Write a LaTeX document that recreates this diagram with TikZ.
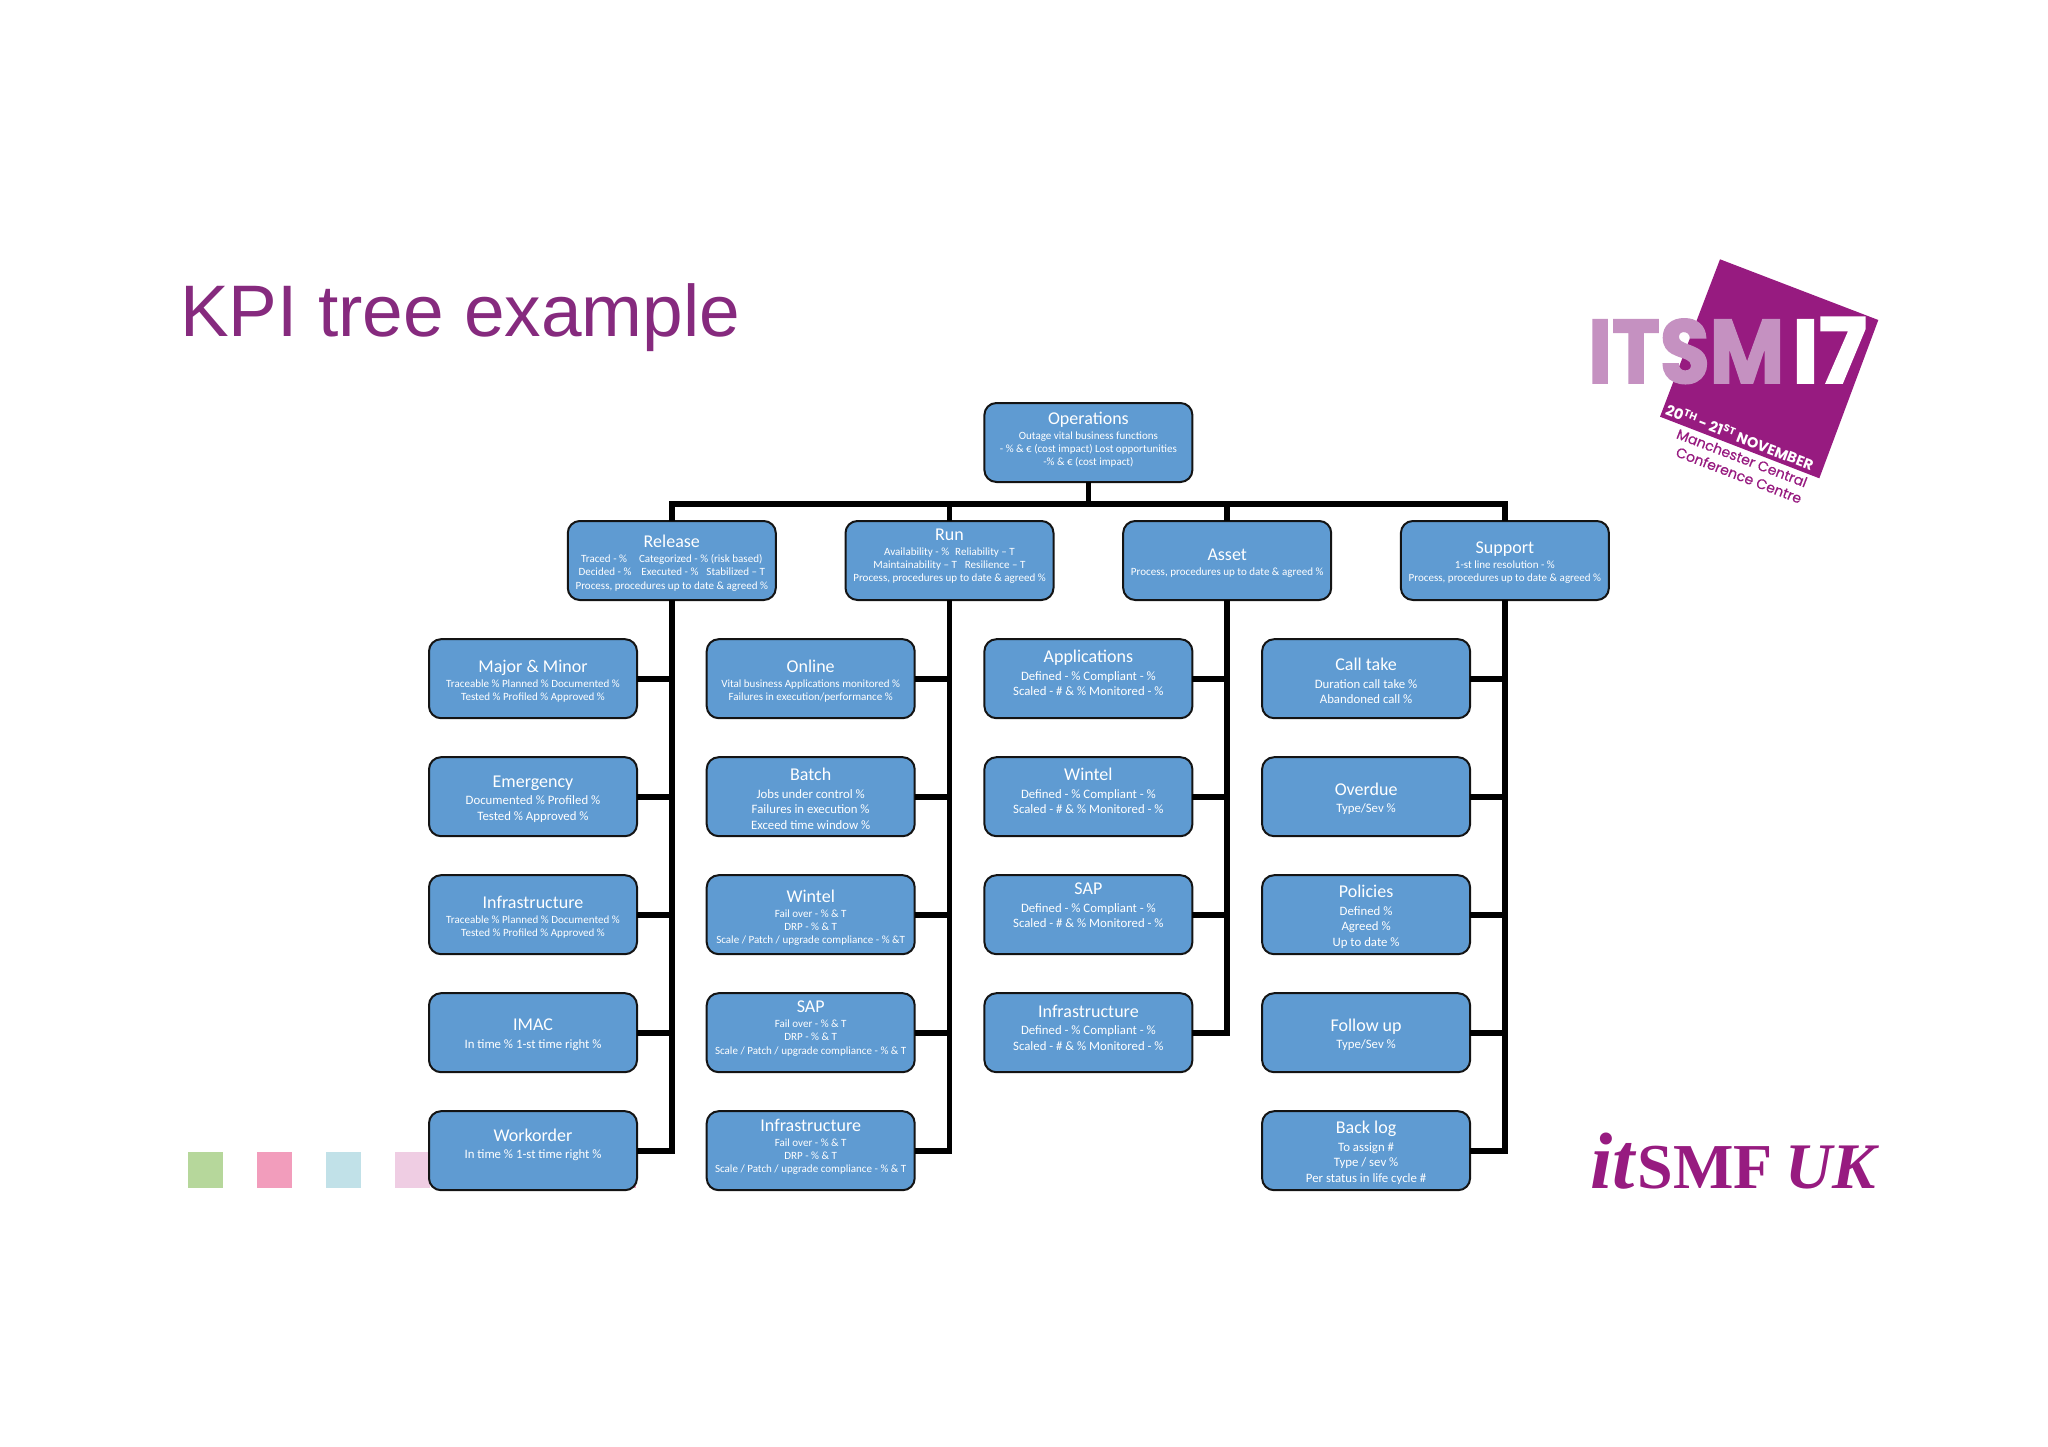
\documentclass[tikz,border=0pt]{standalone}
\usepackage{fontspec}
\setmainfont{Carlito}
\newfontfamily\logofont{Poppins}
\newfontfamily\logoheavy{Poppins}[BoldFeatures={FakeBold=2}]
\newfontfamily\logomedium{Poppins}[FakeBold=0.5]
\newfontfamily\arialfont{Liberation Sans}
\newfontfamily\timesfont{Liberation Serif}
\usetikzlibrary{positioning}
\definecolor{kpiblue}{HTML}{5F9BD2}
\definecolor{itsmpurple}{HTML}{971B80}
\definecolor{itsmpale}{HTML}{C591C1}
\definecolor{titlepurple}{HTML}{862A7E}
\definecolor{sqgreen}{HTML}{B6D79B}
\definecolor{sqpink}{HTML}{F29DBC}
\definecolor{sqblue}{HTML}{C1E1E8}
\definecolor{sqpale}{HTML}{EFCDE3}
\newcommand{\kpihead}[1]{{\fontsize{18}{18}\selectfont #1}\\[2pt]}

\begin{document}
\begin{tikzpicture}[
  x=1pt, y=-1pt,
  box/.style={rectangle, draw=black!92, line width=2pt, fill=kpiblue, minimum width=208pt, minimum height=79pt, inner sep=0pt, outer sep=0pt, rounded corners=12pt},
  txt/.style={text=white, align=center, inner sep=0pt, font=\fontsize{11.05}{13.2}\selectfont},
  txtbig/.style={text=white, align=center, inner sep=0pt, font=\fontsize{12.8}{15.5}\selectfont},
  link/.style={line width=5.6pt, line join=miter, black},
  swatch/.style={rectangle, minimum width=35pt, minimum height=35.5pt, inner sep=0pt, outer sep=0pt}
]
\useasboundingbox (0,0) rectangle (2048,1447);

\node[anchor=base west, inner sep=0pt, text=titlepurple, font=\arialfont\fontsize{73}{80}\selectfont] (title) at (180,336) {KPI tree example};

\node[swatch, fill=sqgreen] (sqa) at (205.5,1170) {};
\node[swatch, fill=sqpink] (sqb) at (274.5,1170) {};
\node[swatch, fill=sqblue] (sqc) at (343.5,1170) {};
\node[swatch, fill=sqpale] (sqd) at (412.5,1170) {};
\node[swatch, fill=sqpink] (sqe) at (618.5,1170) {};

\fill[itsmpurple] (1720,259.3) -- (1878.3,320) -- (1819.3,478.3) -- (1660,416.7) -- cycle;
\node[anchor=base west, inner sep=0pt, text=itsmpale, font=\logoheavy\bfseries\fontsize{90}{90}\selectfont, xscale=0.9] (itsm) at (1588,383) {ITSM};
\node[anchor=base west, inner sep=0pt, text=white, font=\logoheavy\bfseries\fontsize{90}{90}\selectfont] (seventeen) at (1792,383) {I7};
\node[rotate=-21, inner sep=0pt, text=white, font=\logofont\bfseries\fontsize{14.5}{15}\selectfont] (dates) at (1740,436.7) {20\textsuperscript{TH} - 21\textsuperscript{ST} NOVEMBER};
\node[rotate=-21, inner sep=0pt, text=itsmpurple, font=\logomedium\fontsize{14}{15}\selectfont] (venuea) at (1742,458) {Manchester Central};
\node[rotate=-21, inner sep=0pt, text=itsmpurple, font=\logomedium\fontsize{14}{15}\selectfont] (venueb) at (1739,475) {Conference Centre};

\node[anchor=base west, inner sep=0pt, text=itsmpurple, font=\timesfont\bfseries] (itsmf) at (1590,1188) {{\itshape\fontsize{80}{80}\selectfont it}\hspace{3pt}{\fontsize{64}{64}\selectfont SMF}\hspace{13pt}{\itshape\fontsize{65}{65}\selectfont UK}};

\node[box] (ops) at (1088.4,442.5) {};
\node[txt] (opst) at ([yshift=2.7pt]ops) {\kpihead{Operations}Outage vital business functions\\- \% \& € (cost impact) Lost opportunities\\-\% \& € (cost impact)};

\node[box] (rel) at (671.8,560.5) {};
\node[txt] (relt) at ([yshift=-2.5pt]rel) {\kpihead{Release}Traced - \%\hspace{12pt}Categorized - \% (risk based)\\Decided - \%\hspace{10pt}Executed - \%\hspace{8pt}Stabilized -- T\\Process, procedures up to date \& agreed \%};
\node[box, right=69.7pt of rel] (run) {};
\node[txt] (runt) at ([yshift=4.3pt]run) {\kpihead{Run}Availability - \%\hspace{6pt}Reliability -- T\\Maintainability -- T\hspace{8pt}Resilience -- T\\Process, procedures up to date \& agreed \%};
\node[box, right=69.7pt of run] (asset) {};
\node[txt] (assett) at ([yshift=-2.7pt]asset) {\kpihead{Asset}Process, procedures up to date \& agreed \%};
\node[box, right=69.7pt of asset] (sup) {};
\node[txt] (supt) at ([yshift=-2.3pt]sup) {\kpihead{Support}1-st line resolution - \%\\Process, procedures up to date \& agreed \%};

\node[box] (major) at (533,678.7) {};
\node[txt] (majort) at ([yshift=-2.7pt]major) {\kpihead{Major \& Minor}Traceable \% Planned \% Documented \%\\Tested \% Profiled \% Approved \%};
\node[box, below=39pt of major] (emerg) {};
\node[txtbig] (emergt) at ([yshift=-2.3pt]emerg) {\kpihead{Emergency}Documented \% Profiled \%\\Tested \% Approved \%};
\node[box, below=39pt of emerg] (infa) {};
\node[txt] (infat) at ([yshift=-2.8pt]infa) {\kpihead{Infrastructure}Traceable \% Planned \% Documented \%\\Tested \% Profiled \% Approved \%};
\node[box, below=39pt of infa] (imac) {};
\node[txtbig] (imact) at ([yshift=-2pt]imac) {\kpihead{IMAC}In time \% 1-st time right \%};
\node[box, below=39pt of imac] (work) {};
\node[txtbig] (workt) at ([yshift=5.8pt]work) {\kpihead{Workorder}In time \% 1-st time right \%};

\node[box, right=69.7pt of major] (online) {};
\node[txt] (onlinet) at ([yshift=-2.7pt]online) {\kpihead{Online}Vital business Applications monitored \%\\Failures in execution/performance \%};
\node[box, below=39pt of online] (batch) {};
\node[txtbig] (batcht) at ([yshift=-2.2pt]batch) {\kpihead{Batch}Jobs under control \%\\Failures in execution \%\\Exceed time window \%};
\node[box, below=39pt of batch] (winb) {};
\node[txt] (winbt) at ([yshift=-3pt]winb) {\kpihead{Wintel}Fail over - \% \& T\\DRP - \% \& T\\Scale / Patch / upgrade compliance - \% \&T};
\node[box, below=39pt of winb] (sapb) {};
\node[txt] (sapbt) at ([yshift=4.2pt]sapb) {\kpihead{SAP}Fail over - \% \& T\\DRP - \% \& T\\Scale / Patch / upgrade compliance - \% \& T};
\node[box, below=39pt of sapb] (infb) {};
\node[txt] (infbt) at ([yshift=4pt]infb) {\kpihead{Infrastructure}Fail over - \% \& T\\DRP - \% \& T\\Scale / Patch / upgrade compliance - \% \& T};

\node[box, right=69.7pt of online] (apps) {};
\node[txtbig] (appst) at ([yshift=5.5pt]apps) {\kpihead{Applications}Defined - \% Compliant - \%\\Scaled - \# \& \% Monitored - \%};
\node[box, below=39pt of apps] (winc) {};
\node[txtbig] (winct) at ([yshift=5.7pt]winc) {\kpihead{Wintel}Defined - \% Compliant - \%\\Scaled - \# \& \% Monitored - \%};
\node[box, below=39pt of winc] (sapc) {};
\node[txtbig] (sapct) at ([yshift=9pt]sapc) {\kpihead{SAP}Defined - \% Compliant - \%\\Scaled - \# \& \% Monitored - \%};
\node[box, below=39pt of sapc] (infc) {};
\node[txtbig] (infct) at ([yshift=5.3pt]infc) {\kpihead{Infrastructure}Defined - \% Compliant - \%\\Scaled - \# \& \% Monitored - \%};

\node[box, right=69.7pt of apps] (call) {};
\node[txtbig] (callt) at ([yshift=-2.2pt]call) {\kpihead{Call take}Duration call take \%\\Abandoned call \%};
\node[box, below=39pt of call] (over) {};
\node[txtbig] (overt) at ([yshift=-2.3pt]over) {\kpihead{Overdue}Type/Sev \%};
\node[box, below=39pt of over] (pol) {};
\node[txtbig] (polt) at ([yshift=-2.3pt]pol) {\kpihead{Policies}Defined \%\\Agreed \%\\Up to date \%};
\node[box, below=39pt of pol] (follow) {};
\node[txtbig] (followt) at ([yshift=-2pt]follow) {\kpihead{Follow up}Type/Sev \%};
\node[box, below=39pt of follow] (back) {};
\node[txtbig] (backt) at ([yshift=-2pt]back) {\kpihead{Back log}To assign \#\\Type / sev \%\\Per status in life cycle \#};

\coordinate (bus) at (1088.4,504);
\draw[link] (ops.south) -- (bus);
\draw[link] (rel.north) |- (bus) -| (sup.north);
\draw[link] (run.north) -- (run.north |- bus);
\draw[link] (asset.north) -- (asset.north |- bus);

\draw[link] (rel.south) |- (work.east);
\draw[link] (run.south) |- (infb.east);
\draw[link] (asset.south) |- (infc.east);
\draw[link] (sup.south) |- (back.east);
\foreach \kid/\parent in {major/rel,emerg/rel,infa/rel,imac/rel,online/run,batch/run,winb/run,sapb/run,apps/asset,winc/asset,sapc/asset,call/sup,over/sup,pol/sup,follow/sup}
  \draw[link] (\kid.east) -- (\kid.east -| \parent.south);
\end{tikzpicture}
\end{document}
